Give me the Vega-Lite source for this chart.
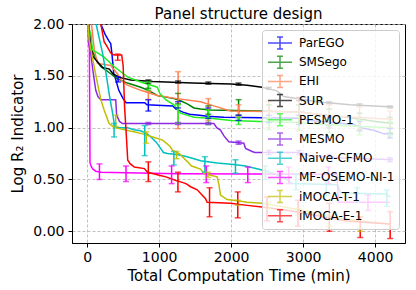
{
"$schema": "https://vega.github.io/schema/vega-lite/v6.json",
"width": 333, "height": 219,
"autosize": "none",
"padding": {"left": 72, "top": 24, "right": 11, "bottom": 47},
"background": "white",
"title": {"text": "Panel structure design", "fontSize": 15, "font": "DejaVu Sans", "fontWeight": "normal", "color": "black", "offset": 4, "frame": "group", "dy": 9},
"config": {
 "view": {"stroke": "black", "strokeWidth": 1},
 "font": "DejaVu Sans",
 "axis": {"labelFont": "DejaVu Sans", "titleFont": "DejaVu Sans", "labelFontSize": 14, "titleFontSize": 15, "titleFontWeight": "normal", "labelColor": "black", "titleColor": "black", "domainColor": "black", "tickColor": "black", "tickSize": 4, "grid": true, "gridColor": "#b0b0b0", "gridDash": [3, 2], "gridWidth": 0.8},
 "legend": {"orient": "none", "legendX": 190, "legendY": 6, "symbolType": "M-1.5,0H1.5M0,-0.75V0.75M-0.375,-0.75H0.375M-0.375,0.75H0.375", "symbolSize": 256, "symbolStrokeWidth": 1.5, "symbolFillColor": "transparent", "labelFontSize": 12, "labelFont": "DejaVu Sans", "labelColor": "black", "labelOffset": 10, "rowPadding": 1.2, "padding": 4, "symbolOffset": 5, "fillColor": "rgba(255,255,255,0.8)", "strokeColor": "#cccccc", "cornerRadius": 3}
},
"datasets": {
"lines": [
{"s":"ParEGO","x":150,"y":2.2},{"s":"ParEGO","x":190,"y":2.0},{"s":"ParEGO","x":250,"y":1.9},{"s":"ParEGO","x":300,"y":1.84},{"s":"ParEGO","x":328,"y":1.81},{"s":"ParEGO","x":345,"y":1.71},{"s":"ParEGO","x":370,"y":1.52},{"s":"ParEGO","x":400,"y":1.46},{"s":"ParEGO","x":440,"y":1.36},{"s":"ParEGO","x":500,"y":1.28},{"s":"ParEGO","x":540,"y":1.24},{"s":"ParEGO","x":800,"y":1.24},{"s":"ParEGO","x":830,"y":1.22},{"s":"ParEGO","x":1190,"y":1.21},{"s":"ParEGO","x":1230,"y":1.18},{"s":"ParEGO","x":1330,"y":1.15},{"s":"ParEGO","x":1420,"y":1.13},{"s":"ParEGO","x":1560,"y":1.12},{"s":"ParEGO","x":1670,"y":1.11},{"s":"ParEGO","x":1900,"y":1.10},{"s":"ParEGO","x":2950,"y":1.09},{"s":"ParEGO","x":3100,"y":1.07},{"s":"ParEGO","x":3400,"y":1.05},{"s":"ParEGO","x":3700,"y":1.03},{"s":"ParEGO","x":3800,"y":1.0},{"s":"ParEGO","x":4000,"y":0.97},{"s":"ParEGO","x":4120,"y":0.94},{"s":"ParEGO","x":4250,"y":0.94},
{"s":"SMSego","x":0,"y":2.2},{"s":"SMSego","x":20,"y":2.0},{"s":"SMSego","x":28,"y":1.85},{"s":"SMSego","x":60,"y":1.75},{"s":"SMSego","x":100,"y":1.7},{"s":"SMSego","x":150,"y":1.63},{"s":"SMSego","x":189,"y":1.59},{"s":"SMSego","x":250,"y":1.56},{"s":"SMSego","x":328,"y":1.52},{"s":"SMSego","x":420,"y":1.47},{"s":"SMSego","x":559,"y":1.43},{"s":"SMSego","x":744,"y":1.39},{"s":"SMSego","x":850,"y":1.36},{"s":"SMSego","x":975,"y":1.31},{"s":"SMSego","x":1206,"y":1.28},{"s":"SMSego","x":1298,"y":1.26},{"s":"SMSego","x":1390,"y":1.23},{"s":"SMSego","x":1483,"y":1.19},{"s":"SMSego","x":1575,"y":1.18},{"s":"SMSego","x":1714,"y":1.17},{"s":"SMSego","x":2407,"y":1.16},{"s":"SMSego","x":2961,"y":1.15},{"s":"SMSego","x":3200,"y":1.13},{"s":"SMSego","x":3500,"y":1.11},{"s":"SMSego","x":3800,"y":1.08},{"s":"SMSego","x":4000,"y":1.06},{"s":"SMSego","x":4250,"y":1.04},
{"s":"EHI","x":0,"y":2.3},{"s":"EHI","x":60,"y":2.0},{"s":"EHI","x":100,"y":1.75},{"s":"EHI","x":143,"y":1.62},{"s":"EHI","x":328,"y":1.6},{"s":"EHI","x":420,"y":1.52},{"s":"EHI","x":480,"y":1.45},{"s":"EHI","x":559,"y":1.41},{"s":"EHI","x":744,"y":1.36},{"s":"EHI","x":975,"y":1.31},{"s":"EHI","x":1250,"y":1.28},{"s":"EHI","x":1575,"y":1.25},{"s":"EHI","x":1760,"y":1.21},{"s":"EHI","x":1991,"y":1.16},{"s":"EHI","x":2961,"y":1.15},{"s":"EHI","x":3300,"y":1.12},{"s":"EHI","x":3700,"y":1.1},{"s":"EHI","x":4250,"y":1.08},
{"s":"SUR","x":0,"y":2.3},{"s":"SUR","x":20,"y":2.0},{"s":"SUR","x":55,"y":1.81},{"s":"SUR","x":79,"y":1.69},{"s":"SUR","x":148,"y":1.63},{"s":"SUR","x":217,"y":1.58},{"s":"SUR","x":310,"y":1.565},{"s":"SUR","x":356,"y":1.52},{"s":"SUR","x":448,"y":1.485},{"s":"SUR","x":605,"y":1.46},{"s":"SUR","x":910,"y":1.445},{"s":"SUR","x":1464,"y":1.43},{"s":"SUR","x":1714,"y":1.427},{"s":"SUR","x":2000,"y":1.42},{"s":"SUR","x":2222,"y":1.41},{"s":"SUR","x":2430,"y":1.39},{"s":"SUR","x":2637,"y":1.355},{"s":"SUR","x":2730,"y":1.3},{"s":"SUR","x":3192,"y":1.25},{"s":"SUR","x":3653,"y":1.22},{"s":"SUR","x":4254,"y":1.2},
{"s":"PESMO-1","x":0,"y":2.2},{"s":"PESMO-1","x":30,"y":1.94},{"s":"PESMO-1","x":51,"y":1.91},{"s":"PESMO-1","x":74,"y":1.75},{"s":"PESMO-1","x":150,"y":1.72},{"s":"PESMO-1","x":236,"y":1.68},{"s":"PESMO-1","x":374,"y":1.59},{"s":"PESMO-1","x":559,"y":1.49},{"s":"PESMO-1","x":744,"y":1.44},{"s":"PESMO-1","x":975,"y":1.39},{"s":"PESMO-1","x":1010,"y":1.33},{"s":"PESMO-1","x":1090,"y":1.27},{"s":"PESMO-1","x":1206,"y":1.22},{"s":"PESMO-1","x":1260,"y":1.17},{"s":"PESMO-1","x":1298,"y":1.14},{"s":"PESMO-1","x":1483,"y":1.1},{"s":"PESMO-1","x":1714,"y":1.09},{"s":"PESMO-1","x":2000,"y":1.07},{"s":"PESMO-1","x":2407,"y":1.06},{"s":"PESMO-1","x":2900,"y":1.05},{"s":"PESMO-1","x":3300,"y":1.03},{"s":"PESMO-1","x":3800,"y":1.01},{"s":"PESMO-1","x":4250,"y":1.0},
{"s":"MESMO","x":0,"y":2.3},{"s":"MESMO","x":10,"y":2.0},{"s":"MESMO","x":20,"y":1.81},{"s":"MESMO","x":50,"y":1.72},{"s":"MESMO","x":80,"y":1.55},{"s":"MESMO","x":120,"y":1.36},{"s":"MESMO","x":150,"y":1.3},{"s":"MESMO","x":190,"y":1.27},{"s":"MESMO","x":397,"y":1.27},{"s":"MESMO","x":410,"y":1.12},{"s":"MESMO","x":450,"y":1.06},{"s":"MESMO","x":490,"y":1.04},{"s":"MESMO","x":1760,"y":1.04},{"s":"MESMO","x":1800,"y":1.0},{"s":"MESMO","x":1852,"y":0.976},{"s":"MESMO","x":1900,"y":0.92},{"s":"MESMO","x":1968,"y":0.863},{"s":"MESMO","x":2176,"y":0.85},{"s":"MESMO","x":2200,"y":0.8},{"s":"MESMO","x":2291,"y":0.77},{"s":"MESMO","x":2330,"y":0.76},{"s":"MESMO","x":2961,"y":0.76},{"s":"MESMO","x":3100,"y":0.73},{"s":"MESMO","x":3500,"y":0.71},{"s":"MESMO","x":4250,"y":0.69},
{"s":"Naive-CFMO","x":100,"y":2.05},{"s":"Naive-CFMO","x":125,"y":2.0},{"s":"Naive-CFMO","x":217,"y":1.71},{"s":"Naive-CFMO","x":263,"y":1.52},{"s":"Naive-CFMO","x":310,"y":1.31},{"s":"Naive-CFMO","x":356,"y":1.13},{"s":"Naive-CFMO","x":379,"y":1.03},{"s":"Naive-CFMO","x":420,"y":1.0},{"s":"Naive-CFMO","x":560,"y":1.0},{"s":"Naive-CFMO","x":650,"y":0.98},{"s":"Naive-CFMO","x":744,"y":0.97},{"s":"Naive-CFMO","x":836,"y":0.94},{"s":"Naive-CFMO","x":900,"y":0.9},{"s":"Naive-CFMO","x":960,"y":0.86},{"s":"Naive-CFMO","x":1020,"y":0.8},{"s":"Naive-CFMO","x":1060,"y":0.76},{"s":"Naive-CFMO","x":1113,"y":0.75},{"s":"Naive-CFMO","x":1250,"y":0.74},{"s":"Naive-CFMO","x":1390,"y":0.72},{"s":"Naive-CFMO","x":1483,"y":0.7},{"s":"Naive-CFMO","x":1575,"y":0.68},{"s":"Naive-CFMO","x":1806,"y":0.66},{"s":"Naive-CFMO","x":2037,"y":0.645},{"s":"Naive-CFMO","x":2200,"y":0.63},{"s":"Naive-CFMO","x":2314,"y":0.61},{"s":"Naive-CFMO","x":2499,"y":0.58},{"s":"Naive-CFMO","x":2730,"y":0.52},{"s":"Naive-CFMO","x":2850,"y":0.46},{"s":"Naive-CFMO","x":3480,"y":0.45},{"s":"Naive-CFMO","x":3520,"y":0.37},{"s":"Naive-CFMO","x":4150,"y":0.36},{"s":"Naive-CFMO","x":4210,"y":0.33},
{"s":"MF-OSEMO-NI-1","x":0,"y":2.5},{"s":"MF-OSEMO-NI-1","x":30,"y":2.0},{"s":"MF-OSEMO-NI-1","x":40,"y":0.66},{"s":"MF-OSEMO-NI-1","x":60,"y":0.62},{"s":"MF-OSEMO-NI-1","x":80,"y":0.6},{"s":"MF-OSEMO-NI-1","x":100,"y":0.59},{"s":"MF-OSEMO-NI-1","x":120,"y":0.58},{"s":"MF-OSEMO-NI-1","x":190,"y":0.57},{"s":"MF-OSEMO-NI-1","x":1250,"y":0.555},{"s":"MF-OSEMO-NI-1","x":3470,"y":0.55},{"s":"MF-OSEMO-NI-1","x":3490,"y":0.28},{"s":"MF-OSEMO-NI-1","x":4200,"y":0.28},
{"s":"iMOCA-T-1","x":0,"y":2.3},{"s":"iMOCA-T-1","x":10,"y":2.0},{"s":"iMOCA-T-1","x":28,"y":1.85},{"s":"iMOCA-T-1","x":97,"y":1.59},{"s":"iMOCA-T-1","x":143,"y":1.43},{"s":"iMOCA-T-1","x":190,"y":1.27},{"s":"iMOCA-T-1","x":236,"y":1.17},{"s":"iMOCA-T-1","x":305,"y":1.04},{"s":"iMOCA-T-1","x":380,"y":1.0},{"s":"iMOCA-T-1","x":540,"y":0.976},{"s":"iMOCA-T-1","x":650,"y":0.96},{"s":"iMOCA-T-1","x":771,"y":0.94},{"s":"iMOCA-T-1","x":910,"y":0.91},{"s":"iMOCA-T-1","x":1049,"y":0.88},{"s":"iMOCA-T-1","x":1150,"y":0.82},{"s":"iMOCA-T-1","x":1187,"y":0.78},{"s":"iMOCA-T-1","x":1279,"y":0.75},{"s":"iMOCA-T-1","x":1395,"y":0.67},{"s":"iMOCA-T-1","x":1450,"y":0.63},{"s":"iMOCA-T-1","x":1575,"y":0.6},{"s":"iMOCA-T-1","x":1620,"y":0.56},{"s":"iMOCA-T-1","x":1714,"y":0.54},{"s":"iMOCA-T-1","x":1806,"y":0.525},{"s":"iMOCA-T-1","x":1830,"y":0.45},{"s":"iMOCA-T-1","x":1852,"y":0.35},{"s":"iMOCA-T-1","x":1945,"y":0.306},{"s":"iMOCA-T-1","x":2037,"y":0.3},{"s":"iMOCA-T-1","x":2222,"y":0.28},{"s":"iMOCA-T-1","x":2430,"y":0.27},{"s":"iMOCA-T-1","x":2700,"y":0.24},{"s":"iMOCA-T-1","x":3000,"y":0.2},{"s":"iMOCA-T-1","x":3400,"y":0.14},{"s":"iMOCA-T-1","x":3800,"y":0.1},{"s":"iMOCA-T-1","x":4200,"y":0.07},
{"s":"iMOCA-E-1","x":150,"y":2.3},{"s":"iMOCA-E-1","x":190,"y":2.0},{"s":"iMOCA-E-1","x":236,"y":1.83},{"s":"iMOCA-E-1","x":280,"y":1.78},{"s":"iMOCA-E-1","x":328,"y":1.72},{"s":"iMOCA-E-1","x":374,"y":1.7},{"s":"iMOCA-E-1","x":480,"y":1.7},{"s":"iMOCA-E-1","x":500,"y":1.6},{"s":"iMOCA-E-1","x":520,"y":1.2},{"s":"iMOCA-E-1","x":540,"y":0.976},{"s":"iMOCA-E-1","x":564,"y":0.686},{"s":"iMOCA-E-1","x":600,"y":0.65},{"s":"iMOCA-E-1","x":656,"y":0.62},{"s":"iMOCA-E-1","x":794,"y":0.605},{"s":"iMOCA-E-1","x":840,"y":0.57},{"s":"iMOCA-E-1","x":1002,"y":0.54},{"s":"iMOCA-E-1","x":1095,"y":0.525},{"s":"iMOCA-E-1","x":1233,"y":0.49},{"s":"iMOCA-E-1","x":1298,"y":0.477},{"s":"iMOCA-E-1","x":1372,"y":0.46},{"s":"iMOCA-E-1","x":1437,"y":0.43},{"s":"iMOCA-E-1","x":1529,"y":0.4},{"s":"iMOCA-E-1","x":1644,"y":0.315},{"s":"iMOCA-E-1","x":1667,"y":0.28},{"s":"iMOCA-E-1","x":1991,"y":0.27},{"s":"iMOCA-E-1","x":2222,"y":0.25},{"s":"iMOCA-E-1","x":2430,"y":0.235},{"s":"iMOCA-E-1","x":2800,"y":0.2},{"s":"iMOCA-E-1","x":3200,"y":0.15},{"s":"iMOCA-E-1","x":3600,"y":0.1},{"s":"iMOCA-E-1","x":4200,"y":0.07}
],
"bars": [
{"s":"ParEGO","x":430,"lo":1.44,"hi":1.49},{"s":"ParEGO","x":850,"lo":1.16,"hi":1.27},{"s":"ParEGO","x":1263,"lo":1.19,"hi":1.25},{"s":"ParEGO","x":1683,"lo":1.09,"hi":1.19},{"s":"ParEGO","x":2103,"lo":1.07,"hi":1.12},{"s":"ParEGO","x":2523,"lo":1.05,"hi":1.12},{"s":"ParEGO","x":2943,"lo":1.03,"hi":1.12},{"s":"ParEGO","x":3363,"lo":1.0,"hi":1.1},{"s":"ParEGO","x":3783,"lo":0.97,"hi":1.06},{"s":"ParEGO","x":4203,"lo":0.9,"hi":0.99},
{"s":"SMSego","x":850,"lo":1.38,"hi":1.45},{"s":"SMSego","x":1263,"lo":1.23,"hi":1.33},{"s":"SMSego","x":1683,"lo":1.13,"hi":1.21},{"s":"SMSego","x":2103,"lo":1.12,"hi":1.27},{"s":"SMSego","x":2523,"lo":1.08,"hi":1.22},{"s":"SMSego","x":2943,"lo":1.05,"hi":1.22},{"s":"SMSego","x":3363,"lo":1.02,"hi":1.18},{"s":"SMSego","x":3783,"lo":0.98,"hi":1.14},{"s":"SMSego","x":4203,"lo":0.95,"hi":1.1},
{"s":"EHI","x":850,"lo":1.27,"hi":1.35},{"s":"EHI","x":1263,"lo":0.99,"hi":1.54},{"s":"EHI","x":1683,"lo":1.07,"hi":1.28},{"s":"EHI","x":2103,"lo":1.1,"hi":1.22},{"s":"EHI","x":2523,"lo":1.0,"hi":1.25},{"s":"EHI","x":2943,"lo":0.98,"hi":1.28},{"s":"EHI","x":3363,"lo":1.0,"hi":1.22},{"s":"EHI","x":3783,"lo":0.98,"hi":1.2},{"s":"EHI","x":4203,"lo":1.0,"hi":1.16},
{"s":"SUR","x":850,"lo":1.43,"hi":1.46},{"s":"SUR","x":1263,"lo":1.43,"hi":1.45},{"s":"SUR","x":1683,"lo":1.42,"hi":1.44},{"s":"SUR","x":2103,"lo":1.41,"hi":1.43},{"s":"SUR","x":2523,"lo":1.37,"hi":1.39},{"s":"SUR","x":2943,"lo":1.26,"hi":1.29},{"s":"SUR","x":3363,"lo":1.23,"hi":1.25},{"s":"SUR","x":3783,"lo":1.21,"hi":1.23},{"s":"SUR","x":4203,"lo":1.19,"hi":1.21},
{"s":"PESMO-1","x":850,"lo":1.36,"hi":1.44},{"s":"PESMO-1","x":1263,"lo":1.04,"hi":1.22},{"s":"PESMO-1","x":1683,"lo":1.03,"hi":1.17},{"s":"PESMO-1","x":2103,"lo":1.03,"hi":1.1},{"s":"PESMO-1","x":2523,"lo":0.98,"hi":1.1},{"s":"PESMO-1","x":2943,"lo":0.97,"hi":1.1},{"s":"PESMO-1","x":3363,"lo":0.95,"hi":1.08},{"s":"PESMO-1","x":3783,"lo":0.93,"hi":1.07},{"s":"PESMO-1","x":4203,"lo":0.92,"hi":1.06},
{"s":"MESMO","x":850,"lo":1.03,"hi":1.05},{"s":"MESMO","x":1263,"lo":1.03,"hi":1.05},{"s":"MESMO","x":1683,"lo":1.03,"hi":1.05},{"s":"MESMO","x":2103,"lo":0.84,"hi":0.87},{"s":"MESMO","x":2523,"lo":0.74,"hi":0.78},{"s":"MESMO","x":2943,"lo":0.74,"hi":0.78},{"s":"MESMO","x":3363,"lo":0.7,"hi":0.74},{"s":"MESMO","x":3783,"lo":0.69,"hi":0.72},{"s":"MESMO","x":4203,"lo":0.67,"hi":0.71},
{"s":"Naive-CFMO","x":374,"lo":0.91,"hi":1.04},{"s":"Naive-CFMO","x":800,"lo":0.73,"hi":1.02},{"s":"Naive-CFMO","x":1205,"lo":0.64,"hi":0.77},{"s":"Naive-CFMO","x":1635,"lo":0.57,"hi":0.72},{"s":"Naive-CFMO","x":2060,"lo":0.56,"hi":0.69},{"s":"Naive-CFMO","x":2476,"lo":0.5,"hi":0.63},{"s":"Naive-CFMO","x":2900,"lo":0.4,"hi":0.55},{"s":"Naive-CFMO","x":3320,"lo":0.35,"hi":0.5},{"s":"Naive-CFMO","x":3750,"lo":0.28,"hi":0.42},{"s":"Naive-CFMO","x":4162,"lo":0.24,"hi":0.4},
{"s":"MF-OSEMO-NI-1","x":171,"lo":0.5,"hi":0.65},{"s":"MF-OSEMO-NI-1","x":540,"lo":0.48,"hi":0.63},{"s":"MF-OSEMO-NI-1","x":1173,"lo":0.46,"hi":0.63},{"s":"MF-OSEMO-NI-1","x":1654,"lo":0.47,"hi":0.63},{"s":"MF-OSEMO-NI-1","x":2231,"lo":0.47,"hi":0.62},{"s":"MF-OSEMO-NI-1","x":2800,"lo":0.46,"hi":0.62},{"s":"MF-OSEMO-NI-1","x":3350,"lo":0.46,"hi":0.62},{"s":"MF-OSEMO-NI-1","x":3900,"lo":0.2,"hi":0.35},
{"s":"iMOCA-T-1","x":397,"lo":1.01,"hi":1.12},{"s":"iMOCA-T-1","x":822,"lo":0.85,"hi":0.96},{"s":"iMOCA-T-1","x":1242,"lo":0.7,"hi":0.77},{"s":"iMOCA-T-1","x":1677,"lo":0.52,"hi":0.57},{"s":"iMOCA-T-1","x":2092,"lo":0.25,"hi":0.3},{"s":"iMOCA-T-1","x":2510,"lo":0.22,"hi":0.28},{"s":"iMOCA-T-1","x":2930,"lo":0.15,"hi":0.22},{"s":"iMOCA-T-1","x":3363,"lo":0.02,"hi":0.05},{"s":"iMOCA-T-1","x":3792,"lo":0.0,"hi":0.03},
{"s":"iMOCA-E-1","x":425,"lo":1.65,"hi":1.71},{"s":"iMOCA-E-1","x":850,"lo":0.48,"hi":0.67},{"s":"iMOCA-E-1","x":1261,"lo":0.38,"hi":0.57},{"s":"iMOCA-E-1","x":1700,"lo":0.14,"hi":0.42},{"s":"iMOCA-E-1","x":2092,"lo":0.13,"hi":0.38},{"s":"iMOCA-E-1","x":2499,"lo":0.1,"hi":0.33},{"s":"iMOCA-E-1","x":2928,"lo":0.05,"hi":0.3},{"s":"iMOCA-E-1","x":3363,"lo":0.0,"hi":0.27},{"s":"iMOCA-E-1","x":3792,"lo":-0.06,"hi":0.14},{"s":"iMOCA-E-1","x":4208,"lo":-0.07,"hi":0.19}
]
},
"layer": [
 {"data": {"name": "lines"},
  "mark": {"type": "line", "strokeWidth": 1.5, "clip": true},
  "encoding": {
   "x": {"field": "x", "type": "quantitative", "scale": {"domain": [-210, 4414], "nice": false, "zero": false}, "axis": {"title": "Total Computation Time (min)", "values": [0, 1000, 2000, 3000, 4000], "format": "d", "labelPadding": 3, "titlePadding": 4}},
   "y": {"field": "y", "type": "quantitative", "scale": {"domain": [-0.113, 2.0], "nice": false, "zero": false}, "axis": {"title": "Log R₂ Indicator", "values": [0, 0.25, 0.5, 0.75, 1.0, 1.25, 1.5, 1.75, 2.0], "format": ".2f", "labelPadding": 4, "titlePadding": 7}},
   "color": {"field": "s", "type": "nominal", "scale": {"domain": ["ParEGO", "SMSego", "EHI", "SUR", "PESMO-1", "MESMO", "Naive-CFMO", "MF-OSEMO-NI-1", "iMOCA-T-1", "iMOCA-E-1"], "range": ["#0000ff", "#008000", "#ff7f50", "#000000", "#22ee22", "#8a2be2", "#00bfbf", "#ff00ff", "#bfbf00", "#ff0000"]}, "legend": {"title": null}}
  }},
 {"data": {"name": "bars"},
  "mark": {"type": "rule", "strokeWidth": 1.5, "clip": true},
  "encoding": {
   "x": {"field": "x", "type": "quantitative"},
   "y": {"field": "lo", "type": "quantitative"},
   "y2": {"field": "hi"},
   "color": {"field": "s", "type": "nominal"}
  }},
 {"data": {"name": "bars"},
  "mark": {"type": "tick", "orient": "horizontal", "size": 6, "thickness": 1.5, "clip": true},
  "encoding": {
   "x": {"field": "x", "type": "quantitative"},
   "y": {"field": "lo", "type": "quantitative"},
   "color": {"field": "s", "type": "nominal"}
  }},
 {"data": {"name": "bars"},
  "mark": {"type": "tick", "orient": "horizontal", "size": 6, "thickness": 1.5, "clip": true},
  "encoding": {
   "x": {"field": "x", "type": "quantitative"},
   "y": {"field": "hi", "type": "quantitative"},
   "color": {"field": "s", "type": "nominal"}
  }}
]
}
